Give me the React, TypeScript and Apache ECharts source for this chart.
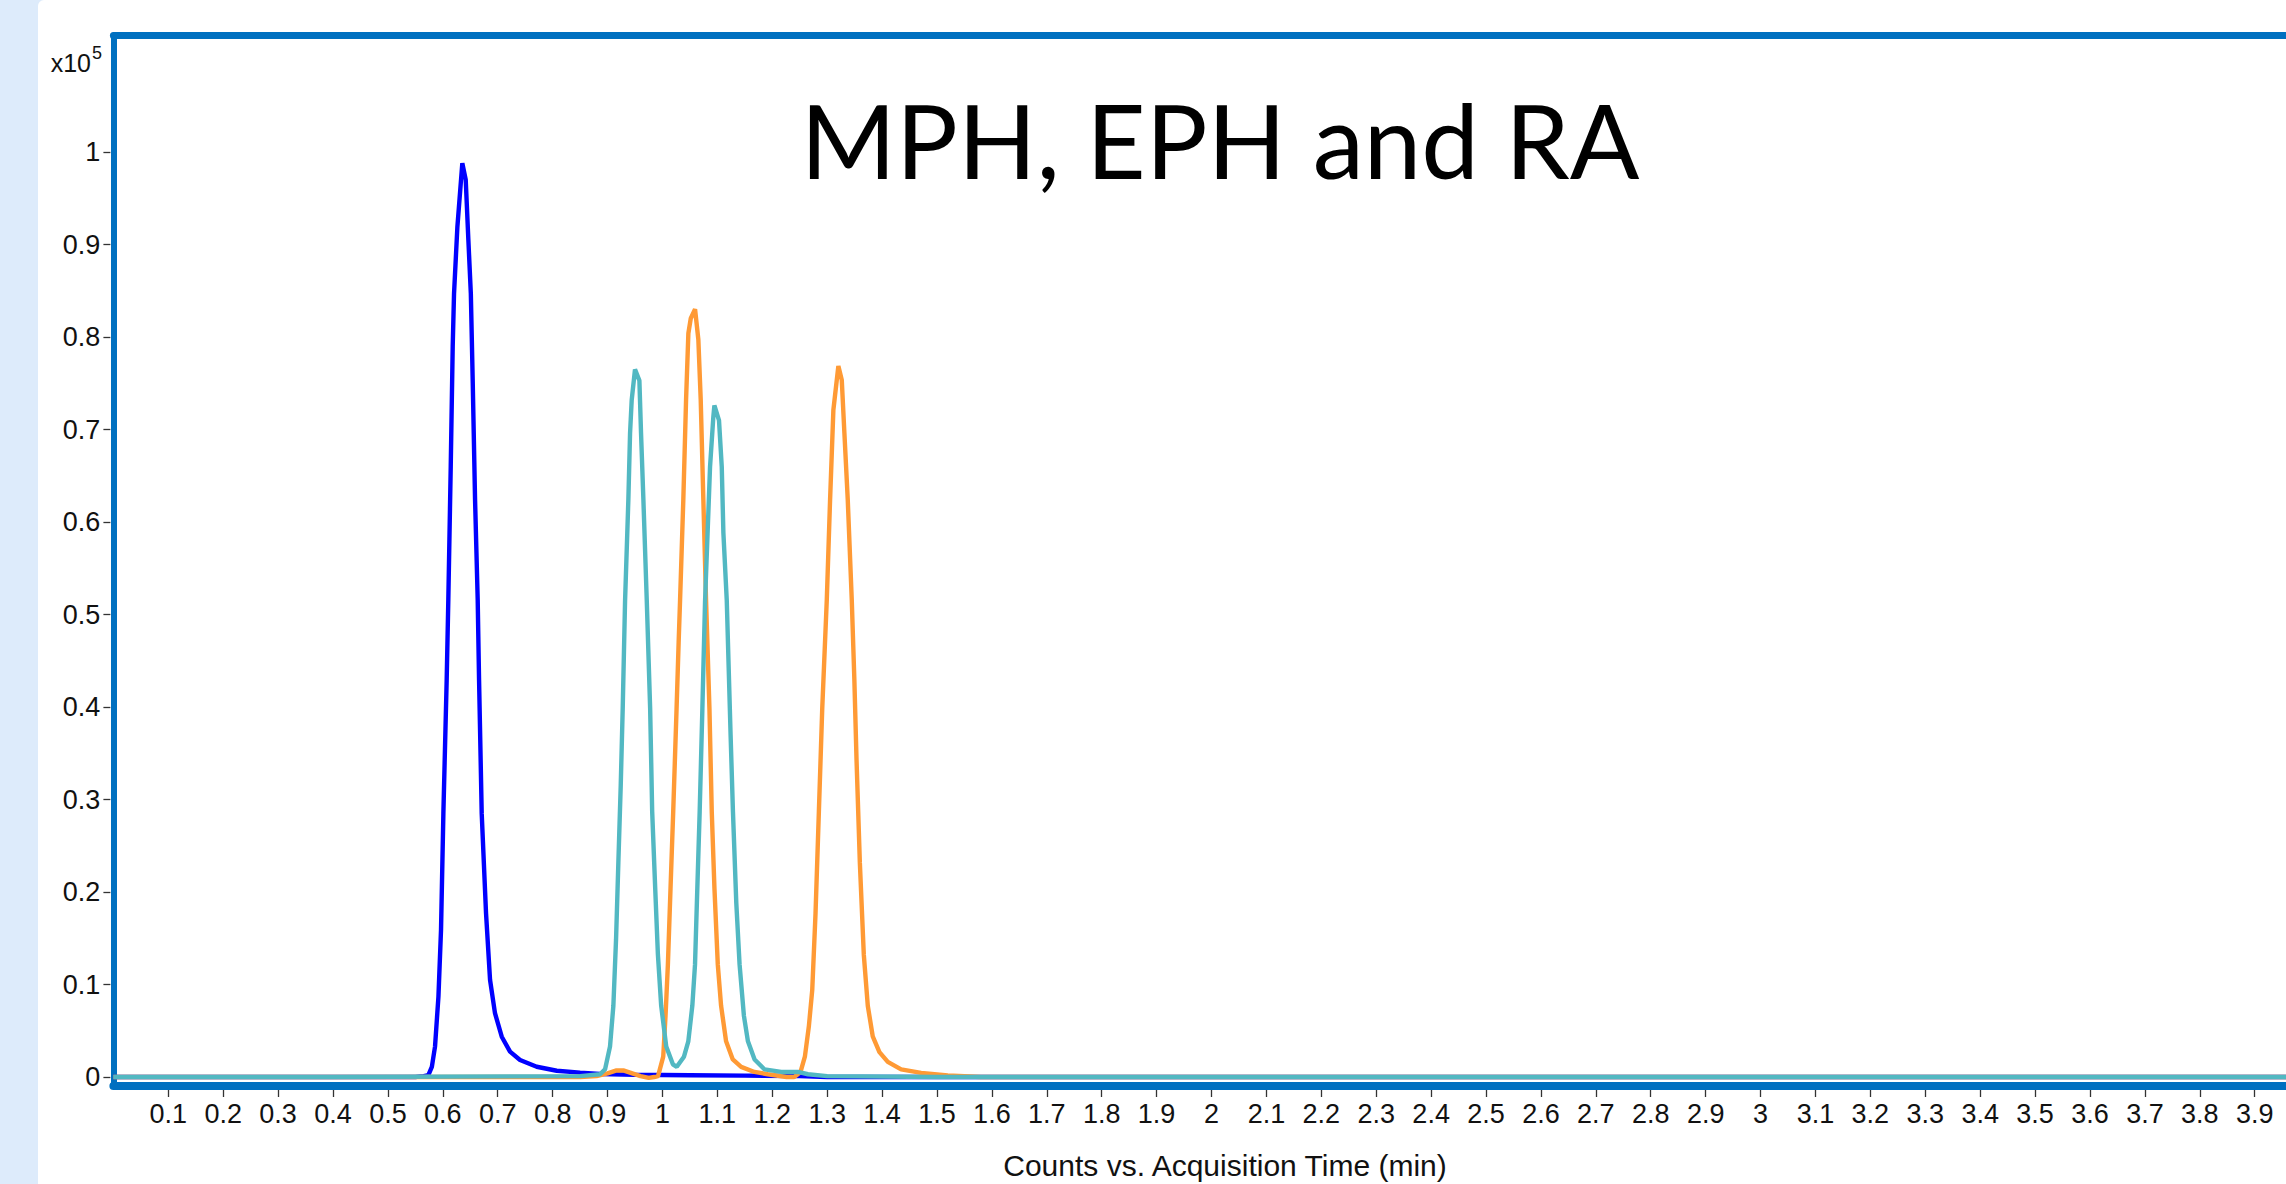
import React, { useEffect, useRef } from "react";
import * as echarts from "echarts";

const W = 2286;
const H = 1184;

const chartTitle = "MPH, EPH and RA";
const xAxisTitle = "Counts vs. Acquisition Time (min)";
const yAxisMultiplier = "x10";
const yAxisExponent = "5";

const xTickValues = [
  0.1, 0.2, 0.3, 0.4, 0.5, 0.6, 0.7, 0.8, 0.9, 1, 1.1, 1.2, 1.3, 1.4, 1.5, 1.6, 1.7, 1.8, 1.9, 2,
  2.1, 2.2, 2.3, 2.4, 2.5, 2.6, 2.7, 2.8, 2.9, 3, 3.1, 3.2, 3.3, 3.4, 3.5, 3.6, 3.7, 3.8, 3.9,
];
const yTickValues = [0, 0.1, 0.2, 0.3, 0.4, 0.5, 0.6, 0.7, 0.8, 0.9, 1];

// counts (x10^5) vs acquisition time (min)
const blueTrace: [number, number][] = [
  [0, 0], [0.3, 0], [0.55, 0], [0.565, 0.001], [0.5736, 0.002], [0.58, 0.011], [0.5858, 0.033],
  [0.592, 0.087], [0.5967, 0.159], [0.601, 0.285], [0.607, 0.429], [0.61, 0.516], [0.6144, 0.66],
  [0.618, 0.79], [0.6204, 0.847], [0.6265, 0.919], [0.6355, 0.988], [0.6417, 0.97], [0.6465, 0.905],
  [0.651, 0.847], [0.6545, 0.75], [0.6587, 0.624], [0.6635, 0.516], [0.666, 0.429], [0.6708, 0.285],
  [0.6787, 0.177], [0.686, 0.105], [0.695, 0.069], [0.7073, 0.0436], [0.7224, 0.0274],
  [0.7406, 0.0184], [0.771, 0.0111], [0.8075, 0.0068], [0.85, 0.0047], [0.886, 0.0032],
  [0.95, 0.0025], [1.05, 0.002], [1.15, 0.0015], [1.25, 0.001], [1.3, 0], [2.0, 0], [3.0, 0], [3.96, 0],
];

const orangeTrace: [number, number][] = [
  [0, 0], [0.4, 0], [0.85, 0], [0.88, 0.001], [0.9, 0.004], [0.915, 0.007], [0.93, 0.007],
  [0.945, 0.004], [0.96, 0.001], [0.975, -0.001], [0.985, 0], [0.992, 0.001], [1.0014, 0.022],
  [1.0056, 0.066], [1.0099, 0.1215], [1.0147, 0.204], [1.0196, 0.287], [1.0257, 0.398],
  [1.0295, 0.47], [1.0321, 0.5157], [1.038, 0.624], [1.043, 0.732], [1.0472, 0.804],
  [1.0515, 0.82], [1.0594, 0.83], [1.0654, 0.797], [1.0697, 0.732], [1.0745, 0.624],
  [1.0794, 0.5157], [1.0856, 0.398], [1.0898, 0.287], [1.0947, 0.204], [1.1008, 0.1215],
  [1.1068, 0.077], [1.1159, 0.0386], [1.1281, 0.019], [1.1433, 0.011], [1.1675, 0.0055],
  [1.1918, 0.003], [1.2262, 0], [1.24, 0], [1.2515, 0.0055], [1.2594, 0.022], [1.2667, 0.055],
  [1.2728, 0.094], [1.2788, 0.177], [1.2849, 0.287], [1.291, 0.398], [1.2993, 0.5157],
  [1.3053, 0.624], [1.3113, 0.721], [1.3204, 0.7686], [1.3266, 0.7535], [1.3314, 0.696],
  [1.3375, 0.624], [1.3448, 0.5157], [1.3495, 0.43], [1.3535, 0.3426], [1.3595, 0.232],
  [1.3667, 0.1325], [1.374, 0.077], [1.383, 0.044], [1.3952, 0.027], [1.4104, 0.0164],
  [1.4347, 0.0082], [1.4711, 0.0044], [1.5197, 0.0017], [1.58, 0], [2.5, 0], [3.96, 0],
];

const tealTrace: [number, number][] = [
  [0, 0], [0.4, 0], [0.85, 0.001], [0.8863, 0.003], [0.8954, 0.0082], [0.9045, 0.033],
  [0.9106, 0.077], [0.9155, 0.149], [0.9197, 0.232], [0.924, 0.315], [0.9276, 0.398],
  [0.9319, 0.5146], [0.9379, 0.624], [0.941, 0.696], [0.944, 0.732], [0.95, 0.765],
  [0.958, 0.753], [0.961, 0.696], [0.9653, 0.624], [0.9714, 0.5157], [0.9776, 0.398],
  [0.9813, 0.287], [0.9868, 0.204], [0.9917, 0.1325], [0.9977, 0.077], [1.0069, 0.033],
  [1.019, 0.0137], [1.0261, 0.011], [1.0392, 0.022], [1.0471, 0.0386], [1.0544, 0.077],
  [1.0593, 0.1215], [1.0635, 0.204], [1.0678, 0.287], [1.0727, 0.398], [1.0776, 0.5146],
  [1.0867, 0.66], [1.0927, 0.714], [1.0946, 0.726], [1.103, 0.71], [1.108, 0.66],
  [1.111, 0.588], [1.1171, 0.5157], [1.1241, 0.37], [1.1284, 0.287], [1.1345, 0.188],
  [1.1405, 0.1215], [1.1484, 0.066], [1.1557, 0.0386], [1.1678, 0.019], [1.186, 0.0082],
  [1.2164, 0.0055], [1.2467, 0.0055], [1.265, 0.003], [1.3, 0.001], [1.5, 0], [2.5, 0], [3.96, 0],
];

const X_MIN = 0;
const X_MAX = 3.957;
const Y_MIN = -0.0097;
const Y_MAX = 1.126;

const FRAME = "#0070C0";
const LABEL_FONT = '"Liberation Sans", Arial, sans-serif';
const LINE_W = 4.4;

export default function App() {
  const ref = useRef<HTMLDivElement>(null);

  useEffect(() => {
    if (!ref.current) return;
    const chart = echarts.init(ref.current, null, { renderer: "svg" });

    const hidden = {
      axisTick: { show: false },
      axisLabel: { show: false },
      splitLine: { show: false },
    };

    const option: any = {
      animation: false,
      backgroundColor: "#ffffff",
      grid: { left: 113.4, right: 0, top: 35.5, bottom: 98, containLabel: false },
      xAxis: [
        {
          type: "value",
          position: "bottom",
          min: X_MIN,
          max: X_MAX,
          axisLine: { show: true, onZero: false, lineStyle: { color: FRAME, width: 8 } },
          ...hidden,
        },
        {
          type: "value",
          position: "top",
          min: X_MIN,
          max: X_MAX,
          axisLine: { show: true, onZero: false, lineStyle: { color: FRAME, width: 7 } },
          ...hidden,
        },
        {
          type: "value",
          position: "bottom",
          offset: 4,
          min: X_MIN,
          max: X_MAX,
          axisLine: { show: false, onZero: false },
          axisTick: {
            show: true,
            length: 7,
            customValues: xTickValues,
            lineStyle: { color: "#333", width: 1.3 },
          },
          axisLabel: {
            show: true,
            customValues: xTickValues,
            margin: 10,
            fontSize: 27,
            fontFamily: LABEL_FONT,
            color: "#111",
          },
          splitLine: { show: false },
        },
      ],
      yAxis: [
        {
          type: "value",
          position: "left",
          min: Y_MIN,
          max: Y_MAX,
          axisLine: { show: true, onZero: false, lineStyle: { color: FRAME, width: 6 } },
          ...hidden,
        },
        {
          type: "value",
          position: "left",
          offset: 3,
          min: Y_MIN,
          max: Y_MAX,
          axisLine: { show: false, onZero: false },
          axisTick: {
            show: true,
            length: 7,
            customValues: yTickValues,
            lineStyle: { color: "#333", width: 1.3 },
          },
          axisLabel: {
            show: true,
            customValues: yTickValues,
            margin: 10,
            fontSize: 27,
            fontFamily: LABEL_FONT,
            color: "#111",
          },
          splitLine: { show: false },
        },
      ],
      series: [
        {
          name: "blue",
          type: "line",
          data: blueTrace,
          xAxisIndex: 0,
          yAxisIndex: 0,
          showSymbol: false,
          symbol: "none",
          lineStyle: { color: "#0000FF", width: LINE_W },
          itemStyle: { color: "#0000FF" },
          z: 2,
        },
        {
          name: "orange",
          type: "line",
          data: orangeTrace,
          xAxisIndex: 0,
          yAxisIndex: 0,
          showSymbol: false,
          symbol: "none",
          lineStyle: { color: "#FF9A35", width: LINE_W },
          itemStyle: { color: "#FF9A35" },
          z: 3,
        },
        {
          name: "teal",
          type: "line",
          data: tealTrace,
          xAxisIndex: 0,
          yAxisIndex: 0,
          showSymbol: false,
          symbol: "none",
          lineStyle: { color: "#52B8C2", width: LINE_W },
          itemStyle: { color: "#52B8C2" },
          z: 4,
        },
      ],
      graphic: [
        {
          type: "rect",
          shape: { x: 0, y: 0, width: 46, height: H },
          style: { fill: "#DDEBFB" },
          z: -10,
          silent: true,
        },
        {
          type: "rect",
          shape: { x: 38, y: 0, width: 40, height: H, r: [6, 0, 0, 0] },
          style: { fill: "#ffffff" },
          z: -9,
          silent: true,
        },
        {
          type: "text",
          x: 1220,
          y: 139,
          style: {
            text: chartTitle,
            fontSize: 103,
            fontFamily: "Lato, 'Open Sans', sans-serif",
            fill: "#000",
            align: "center",
            textAlign: "center",
            verticalAlign: "middle",
            textVerticalAlign: "middle",
          },
          z: 10,
        },
        {
          type: "text",
          x: 91,
          y: 63,
          style: {
            text: yAxisMultiplier,
            fontSize: 25,
            fontFamily: LABEL_FONT,
            fill: "#111",
            align: "right",
            textAlign: "right",
            verticalAlign: "middle",
            textVerticalAlign: "middle",
          },
          z: 10,
        },
        {
          type: "text",
          x: 92,
          y: 53,
          style: {
            text: yAxisExponent,
            fontSize: 18,
            fontFamily: LABEL_FONT,
            fill: "#111",
            align: "left",
            textAlign: "left",
            verticalAlign: "middle",
            textVerticalAlign: "middle",
          },
          z: 10,
        },
        {
          type: "text",
          x: 1225,
          y: 1165,
          style: {
            text: xAxisTitle,
            fontSize: 30,
            fontFamily: LABEL_FONT,
            fill: "#111",
            align: "center",
            textAlign: "center",
            verticalAlign: "middle",
            textVerticalAlign: "middle",
          },
          z: 10,
        },
      ],
    };

    chart.setOption(option);
    return () => chart.dispose();
  }, []);

  return (
    <div
      ref={ref}
      style={{ position: "absolute", left: 0, top: 0, width: W, height: H }}
    />
  );
}
